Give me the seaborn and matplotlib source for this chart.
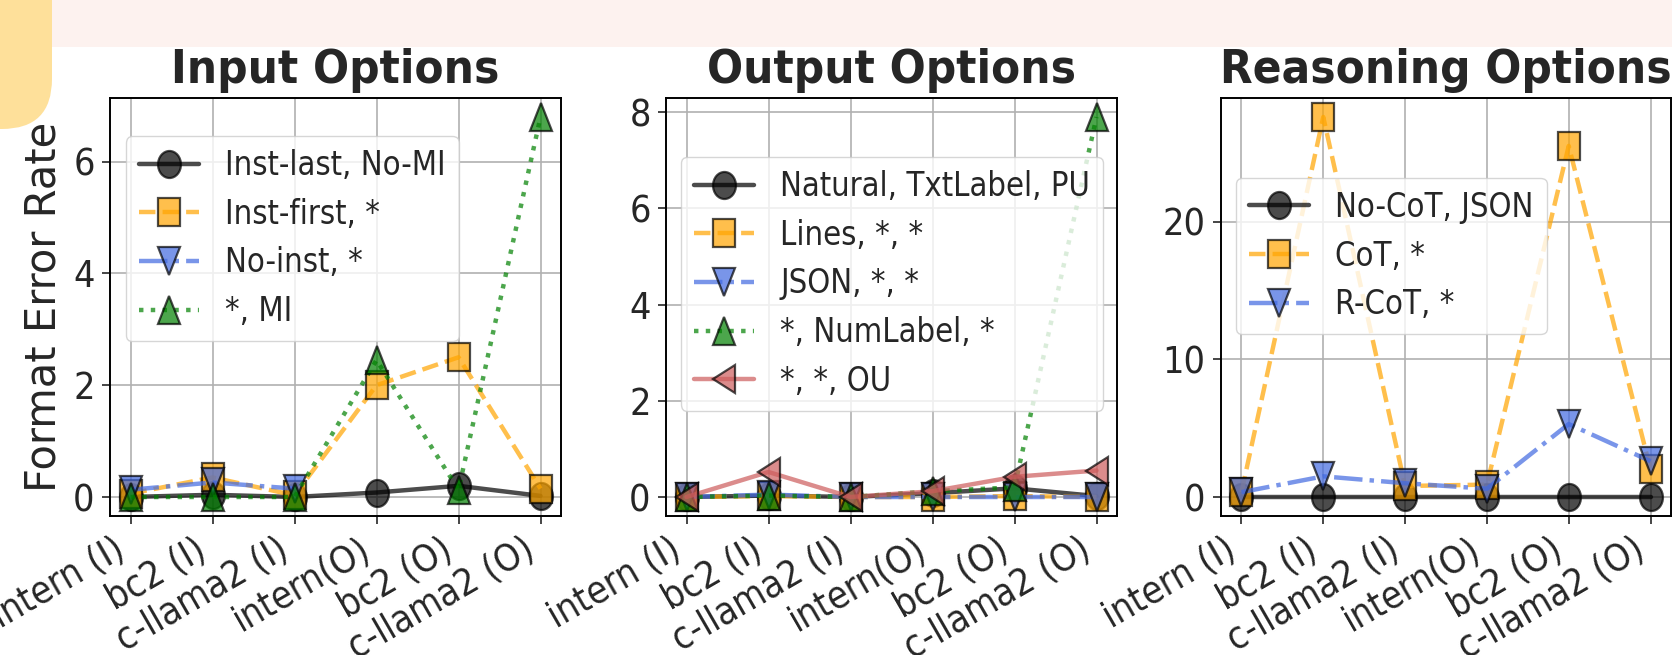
import numpy as np
import pandas as pd
import matplotlib
matplotlib.use("Agg")
import matplotlib.pyplot as plt
from matplotlib import font_manager as fm
from matplotlib.patches import Rectangle, FancyBboxPatch
from matplotlib.markers import MarkerStyle
from matplotlib.transforms import Affine2D
from matplotlib.ticker import MultipleLocator
import seaborn as sns

# ---------------- data ----------------
categories = ["intern (I)", "bc2 (I)", "c-llama2 (I)", "intern(O)", "bc2 (O)", "c-llama2 (O)"]

input_labels = ["Inst-last, No-MI", "Inst-first, *", "No-inst, *", "*, MI"]
input_inst_last = [0.0, 0.04, 0.0, 0.08, 0.20, 0.02]
input_inst_first = [0.06, 0.35, 0.03, 2.0, 2.5, 0.15]
input_no_inst = [0.13, 0.26, 0.15, np.nan, np.nan, np.nan]
input_mi = [0.0, 0.0, 0.0, 2.45, 0.13, 6.8]

output_labels = ["Natural, TxtLabel, PU", "Lines, *, *", "JSON, *, *", "*, NumLabel, *", "*, *, OU"]
output_natural = [0.0, 0.03, 0.0, 0.08, 0.18, 0.02]
output_lines = [0.0, 0.02, 0.0, 0.0, 0.02, 0.0]
output_json = [0.0, 0.05, 0.0, 0.0, 0.0, 0.0]
output_numlabel = [0.0, 0.03, 0.0, 0.12, 0.20, 7.9]
output_ou = [0.0, 0.52, 0.0, 0.12, 0.42, 0.55]

reason_labels = ["No-CoT, JSON", "CoT, *", "R-CoT, *"]
reason_nocot = [0.0, 0.0, 0.0, 0.0, 0.0, 0.0]
reason_cot = [0.35, 27.6, 0.8, 0.9, 25.5, 2.0]
reason_rcot = [0.35, 1.5, 1.0, 0.6, 5.3, 2.6]

titles = ["Input Options", "Output Options", "Reasoning Options"]
ylabel = "Format Error Rate"
ytick_steps = [2, 2, 10]

# ---------------- styles ----------------
STRETCH = 1.18  # the reference is vertically stretched
styles = [
    dict(color="black", marker="o", linestyle="-"),
    dict(color="orange", marker="s", linestyle="--"),
    dict(color="royalblue", marker="v", linestyle="-."),
    dict(color="green", marker="^", linestyle=":"),
    dict(color="indianred", marker="<", linestyle="-"),
]

sns.set_style("white")
plt.rcParams["font.family"] = ["DejaVu Sans"]


def find_condensed(bold=False):
    w = "bold" if bold else "normal"
    for fam in ["DejaVu Sans Condensed", "DejaVu Sans"]:
        try:
            p = fm.findfont(fm.FontProperties(family=fam, stretch="condensed", weight=w),
                            fallback_to_default=False)
            if "ondensed" in p:
                return p
        except Exception:
            pass
    return None


cond_path = find_condensed(False)
cond_bold_path = find_condensed(True)
if cond_path is not None:
    fp_tick = fm.FontProperties(fname=cond_path, size=27)
    fp_leg = fm.FontProperties(fname=cond_path, size=23.5)
    leg_spacing = 0.48
else:
    fp_tick = fm.FontProperties(family="DejaVu Sans", size=24.5)
    fp_leg = fm.FontProperties(family="DejaVu Sans", size=21.5)
    leg_spacing = 0.7
if cond_bold_path is not None:
    fp_title = fm.FontProperties(fname=cond_bold_path, size=34)
else:
    fp_title = fm.FontProperties(family="DejaVu Sans", weight="bold", size=31)
fp_ylabel = fm.FontProperties(family="DejaVu Sans", size=30)

W, H = 1672, 655
fig = plt.figure(figsize=(W / 100, H / 100), dpi=100)

# background decorations of the screenshot
fig.patches.append(Rectangle((0, 1 - 47 / H), 1, 47 / H, transform=fig.transFigure,
                             facecolor="#fdf2ef", edgecolor="none", zorder=0))
fig.patches.append(FancyBboxPatch((-60 / W, 1 - 129 / H), 112 / W, 200 / H,
                                  boxstyle="round,pad=0,rounding_size=0.03",
                                  transform=fig.transFigure, mutation_aspect=W / H,
                                  facecolor="#fee09a", edgecolor="none", zorder=0))

lefts = [110, 666, 1221]
widths = [451, 451, 450]
top, bottom = 98, 516

panels = [
    (input_labels, [input_inst_last, input_inst_first, input_no_inst, input_mi], (0.035, 0.909)),
    (output_labels, [output_natural, output_lines, output_json, output_numlabel, output_ou], (0.033, 0.859)),
    (reason_labels, [reason_nocot, reason_cot, reason_rcot], (0.033, 0.809)),
]

x = np.arange(len(categories))
for i, (labels, series, anchor) in enumerate(panels):
    ax = fig.add_axes([lefts[i] / W, (H - bottom) / H, widths[i] / W, (bottom - top) / H])
    for j, (lab, vals) in enumerate(zip(labels, series)):
        st = styles[j]
        mk = MarkerStyle(st["marker"], transform=Affine2D().scale(1.0, STRETCH))
        df = pd.DataFrame({"x": x, "y": vals}).dropna()
        sns.lineplot(data=df, x="x", y="y", ax=ax, label=lab, estimator=None, errorbar=None,
                     sort=False, color=st["color"], marker=mk, linestyle=st["linestyle"],
                     linewidth=3.2, markersize=16.5, markeredgecolor="black", markeredgewidth=1.6,
                     alpha=0.7)
    ax.set_xticks(x)
    ax.set_xticklabels(categories, rotation=30, ha="right")
    ax.yaxis.set_major_locator(MultipleLocator(ytick_steps[i]))
    ax.set_xlabel("")
    ax.set_ylabel("")
    ax.grid(True, color="#b0b0b0", linewidth=1.2)
    ax.tick_params(axis="both", length=6, width=1.2, direction="out",
                   bottom=True, left=True, pad=5)
    for lab in ax.get_xticklabels() + ax.get_yticklabels():
        lab.set_fontproperties(fp_tick)
    for sp in ax.spines.values():
        sp.set_color("black")
        sp.set_linewidth(1.4)
    ax.set_title(titles[i], fontproperties=fp_title, pad=11)
    ax.legend(loc="upper left", bbox_to_anchor=anchor, borderaxespad=0, prop=fp_leg,
              framealpha=0.8, fancybox=True, labelspacing=leg_spacing, handlelength=1.85)
    if i == 0:
        ax.set_ylabel(ylabel, fontproperties=fp_ylabel)
        ax.yaxis.set_label_coords(-0.10, 0.5)

fig.savefig("out.png", dpi=100)
